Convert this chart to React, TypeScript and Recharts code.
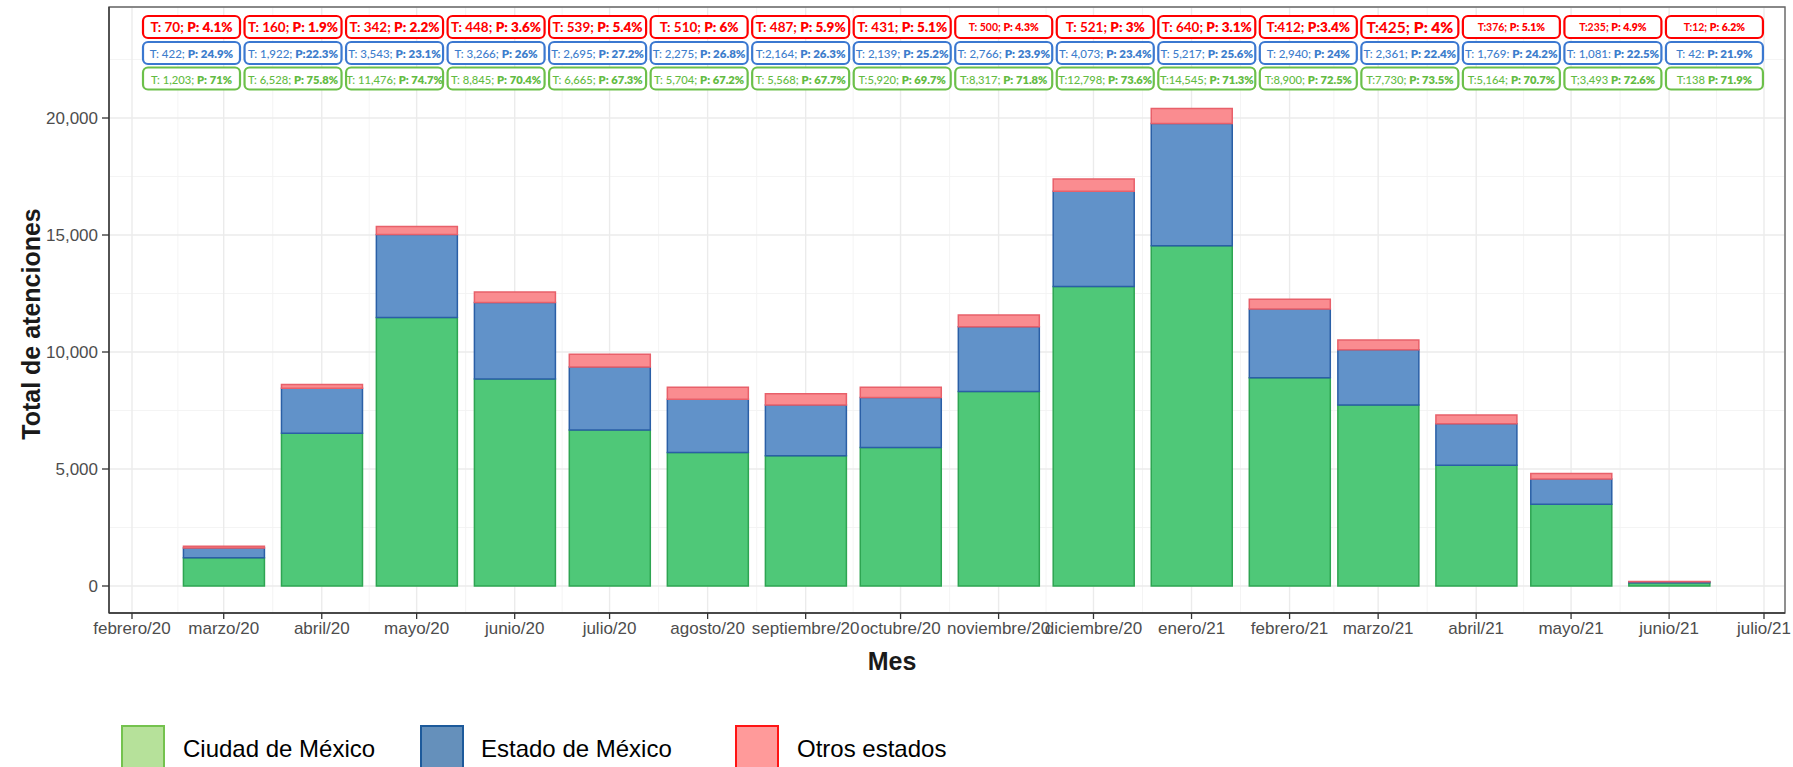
import React from 'react';
import { ComposedChart, Bar, XAxis, YAxis, CartesianGrid, Scatter, ReferenceArea } from 'recharts';

const tickMonths = ['2020-02','2020-03','2020-04','2020-05','2020-06','2020-07','2020-08','2020-09','2020-10','2020-11','2020-12','2021-01','2021-02','2021-03','2021-04','2021-05','2021-06','2021-07'];
const tickLabels = ['febrero/20','marzo/20','abril/20','mayo/20','junio/20','julio/20','agosto/20','septiembre/20','octubre/20','noviembre/20','diciembre/20','enero/21','febrero/21','marzo/21','abril/21','mayo/21','junio/21','julio/21'];
const months = ['2020-03','2020-04','2020-05','2020-06','2020-07','2020-08','2020-09','2020-10','2020-11','2020-12','2021-01','2021-02','2021-03','2021-04','2021-05','2021-06'];

const cdmx = [1203, 6528, 11476, 8845, 6665, 5704, 5568, 5920, 8317, 12798, 14545, 8900, 7730, 5164, 3493, 138];
const edomex = [422, 1922, 3543, 3266, 2695, 2275, 2164, 2139, 2766, 4073, 5217, 2940, 2361, 1769, 1081, 42];
const otros = [70, 160, 342, 448, 539, 510, 487, 431, 500, 521, 640, 412, 425, 376, 235, 12];

const otrosLabels = ['T: 70; P: 4.1%','T: 160; P: 1.9%','T: 342; P: 2.2%','T: 448; P: 3.6%','T: 539; P: 5.4%','T: 510; P: 6%','T: 487; P: 5.9%','T: 431; P: 5.1%','T: 500; P: 4.3%','T: 521; P: 3%','T: 640; P: 3.1%','T:412; P:3.4%','T:425; P: 4%','T:376; P: 5.1%','T:235; P: 4.9%','T:12; P: 6.2%'];
const edomexLabels = ['T: 422; P: 24.9%','T: 1,922; P:22.3%','T: 3,543; P: 23.1%','T: 3,266; P: 26%','T: 2,695; P: 27.2%','T: 2,275; P: 26.8%','T:2,164; P: 26.3%','T: 2,139; P: 25.2%','T: 2,766; P: 23.9%','T: 4,073; P: 23.4%','T: 5,217; P: 25.6%','T: 2,940; P: 24%','T: 2,361; P: 22.4%','T: 1,769: P: 24.2%','T: 1,081: P: 22.5%','T: 42: P: 21.9%'];
const cdmxLabels = ['T: 1,203; P: 71%','T: 6,528; P: 75.8%','T: 11,476; P: 74.7%','T: 8,845; P: 70.4%','T: 6,665; P: 67.3%','T: 5,704; P: 67.2%','T: 5,568; P: 67.7%','T:5,920; P: 69.7%','T:8,317; P: 71.8%','T:12,798; P: 73.6%','T:14,545; P: 71.3%','T:8,900; P: 72.5%','T:7,730; P: 73.5%','T:5,164; P: 70.7%','T;3,493 P: 72.6%','T:138 P: 71.9%'];

// style only: font size for the red annotation row
const redSizes = [13.5,13.5,13.5,13.5,13.5,13.5,13.5,13.5,10.5,13.5,13.5,13.5,15.5,10.5,10.5,10.5];

const ORIGIN = Date.UTC(2020, 1, 1);
const toDay = (ym: string) => {
  const [y, m] = ym.split('-').map(Number);
  return (Date.UTC(y, m - 1, 1) - ORIGIN) / 86400000;
};
const tickDays = tickMonths.map(toDay);
const minorX = tickDays.slice(1).map((d, i) => (d + tickDays[i]) / 2);

const data = months.map((m, i) => ({ t: toDay(m), cdmx: cdmx[i], edomex: edomex[i], otros: otros[i] }));
const LABEL_Y = 23889;
const slotData = otros.map((_, i) => ({ s: i, y: LABEL_Y }));

const X_MIN = -7.27, X_MAX = 522.64;
const Y_MIN = -1154, Y_MAX = 24744;
const AX = '"Liberation Sans", Arial, Helvetica, sans-serif';
const LF = 'Lato, "Open Sans", sans-serif';

const LabelStack = (props: any) => {
  const { cx, cy, payload } = props;
  if (cx == null || cy == null) return null;
  const i = payload.s;
  const w = 97, h = 22;
  const rows = [
    { text: otrosLabels[i], color: '#ff0000', stroke: '#ff0000', size: redSizes[i], dy: 0, w1: 700 },
    { text: edomexLabels[i], color: '#3d7dcc', stroke: '#3b78d0', size: 11.5, dy: 26, w1: 500 },
    { text: cdmxLabels[i], color: '#62bb42', stroke: '#6cc04a', size: 11.2, dy: 51.5, w1: 500 },
  ];
  return (
    <g>
      {rows.map((r, k) => {
        const p = r.text.lastIndexOf('P');
        const pre = r.text.slice(0, p);
        const post = r.text.slice(p);
        return (
          <g key={k}>
            <rect x={cx - w / 2} y={cy + r.dy - h / 2} width={w} height={h} rx={5} ry={5} fill="#ffffff" stroke={r.stroke} strokeWidth={2.2} />
            <text x={cx} y={cy + r.dy} textAnchor="middle" dominantBaseline="central" fill={r.color} fontFamily={LF} fontSize={r.size} style={{ whiteSpace: 'pre' }}>
              <tspan fontWeight={r.w1}>{pre}</tspan>
              <tspan fontWeight={800}>{post}</tspan>
            </text>
          </g>
        );
      })}
    </g>
  );
};

const legendItems = [
  { label: 'Ciudad de México', fill: '#b6e19a', stroke: '#74c24e', left: 121, textLeft: 183 },
  { label: 'Estado de México', fill: '#6590bb', stroke: '#1d5a9b', left: 420, textLeft: 481 },
  { label: 'Otros estados', fill: '#ff9a9a', stroke: '#ff1414', left: 735, textLeft: 797 },
];

export default function App() {
  return (
    <div style={{ position: 'absolute', left: 0, top: 0, width: 1793, height: 767, background: '#ffffff', overflow: 'hidden' }}>
      <ComposedChart width={1793} height={767} data={data} margin={{ top: 7, right: 8, bottom: 124, left: 49 }}>
        <XAxis
          xAxisId="time"
          dataKey="t"
          type="number"
          domain={[X_MIN, X_MAX]}
          allowDataOverflow
          ticks={tickDays}
          interval={0}
          tickFormatter={(v: number) => tickLabels[tickDays.indexOf(v)] ?? ''}
          height={30}
          tickSize={6}
          tickMargin={3}
          tick={{ fill: '#4d4d4d', fontSize: 17, fontFamily: AX }}
          axisLine={{ stroke: '#333333', strokeWidth: 1.3 }}
          tickLine={{ stroke: '#333333', strokeWidth: 1.3 }}
        />
        <XAxis xAxisId="slot" dataKey="s" type="number" domain={[-0.8126, 15.695]} allowDataOverflow hide height={0} orientation="top" />
        <YAxis
          type="number"
          domain={[Y_MIN, Y_MAX]}
          allowDataOverflow
          ticks={[0, 5000, 10000, 15000, 20000]}
          tickFormatter={(v: number) => v.toLocaleString('en-US')}
          width={60}
          tickSize={7}
          tickMargin={4}
          tick={{ fill: '#4d4d4d', fontSize: 17, fontFamily: AX }}
          axisLine={{ stroke: '#333333', strokeWidth: 1.3 }}
          tickLine={{ stroke: '#333333', strokeWidth: 1.3 }}
        />
        <CartesianGrid xAxisId="time" horizontalValues={[2500, 7500, 12500, 17500, 22500]} verticalValues={minorX} stroke="#f3f3f3" strokeWidth={0.9} />
        <CartesianGrid xAxisId="time" stroke="#ebebeb" strokeWidth={1.4} />
        <Bar xAxisId="time" dataKey="cdmx" stackId="a" barSize={81} fill="#4fc878" stroke="#2ea552" strokeWidth={1.5} isAnimationActive={false} />
        <Bar xAxisId="time" dataKey="edomex" stackId="a" barSize={81} fill="#6192c9" stroke="#2a5fa6" strokeWidth={1.5} isAnimationActive={false} />
        <Bar xAxisId="time" dataKey="otros" stackId="a" barSize={81} fill="#fa8c90" stroke="#e8606a" strokeWidth={1.5} isAnimationActive={false} />
        <ReferenceArea xAxisId="time" x1={X_MIN} x2={X_MAX} y1={Y_MIN} y2={Y_MAX} fill="none" stroke="#666666" strokeWidth={1.4} ifOverflow="visible" />
        <Scatter xAxisId="slot" data={slotData} dataKey="y" shape={LabelStack} isAnimationActive={false} />
      </ComposedChart>

      <div style={{ position: 'absolute', left: 31, top: 324, transform: 'translate(-50%, -50%) rotate(-90deg)', whiteSpace: 'nowrap', fontFamily: AX, fontWeight: 700, fontSize: 25, color: '#1a1a1a' }}>
        Total de atenciones
      </div>
      <div style={{ position: 'absolute', left: 892, top: 661, transform: 'translate(-50%, -50%)', whiteSpace: 'nowrap', fontFamily: AX, fontWeight: 700, fontSize: 25, color: '#1a1a1a' }}>
        Mes
      </div>
      {legendItems.map((it) => (
        <React.Fragment key={it.label}>
          <div style={{ position: 'absolute', left: it.left, top: 725, width: 40, height: 44, background: it.fill, border: `2px solid ${it.stroke}` }} />
          <div style={{ position: 'absolute', left: it.textLeft, top: 749, transform: 'translateY(-50%)', whiteSpace: 'nowrap', fontFamily: AX, fontSize: 24, color: '#000' }}>
            {it.label}
          </div>
        </React.Fragment>
      ))}
    </div>
  );
}
